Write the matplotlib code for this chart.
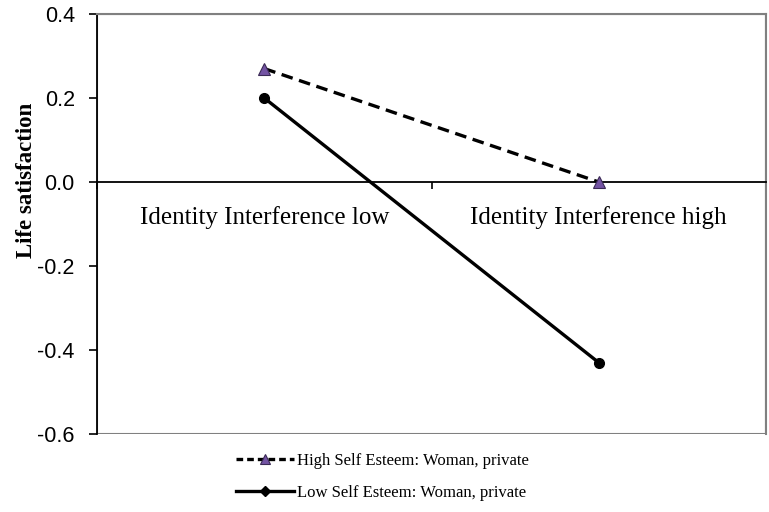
import matplotlib
matplotlib.use("Agg")
import matplotlib.pyplot as plt
from matplotlib.lines import Line2D
from matplotlib.patches import Rectangle

# ---------------------------------------------------------------------------
# Data
# ---------------------------------------------------------------------------
categories = ["Identity Interference low", "Identity Interference high"]
high_esteem = [0.27, 0.0]
low_esteem = [0.20, -0.43]
yticks = [-0.6, -0.4, -0.2, 0.0, 0.2, 0.4]
ytick_labels = ["-0.6", "-0.4", "-0.2", "0.0", "0.2", "0.4"]

SERIF = "Liberation Serif"
SANS = "Liberation Sans"
PURPLE = "#7353a3"

fig = plt.figure(figsize=(7.69, 5.12), dpi=100)
ax = fig.add_axes([97 / 769, 1 - 434 / 512, (766 - 97) / 769, (434 - 14) / 512])

x = list(range(len(categories)))
ax.plot(x, high_esteem, color="black", linewidth=2.4, linestyle=(0, (3.5, 2)),
        marker="^", markersize=8, markerfacecolor=PURPLE,
        markeredgecolor="#3a2a55", markeredgewidth=0.8, zorder=3)
ax.plot(x, low_esteem, color="black", linewidth=2.4, linestyle="-",
        marker="o", markersize=7, markerfacecolor="black",
        markeredgecolor="black", zorder=3)

ax.set_xlim(-0.5, len(categories) - 0.5)
ax.set_ylim(yticks[0], yticks[-1])

# gray frame round the plot area
for side in ["top", "right"]:
    ax.spines[side].set_color("#808080")
    ax.spines[side].set_linewidth(1.5)
ax.add_patch(Rectangle((0, 0), 1, 1, transform=ax.transAxes, fill=False,
                       edgecolor="#808080", linewidth=1.5, zorder=0.5))
ax.spines["left"].set_color("black")
ax.spines["left"].set_linewidth(1.3)
ax.spines["bottom"].set_position(("data", 0))
ax.spines["bottom"].set_color("black")
ax.spines["bottom"].set_linewidth(1.3)

ax.set_yticks(yticks)
ax.set_yticklabels(ytick_labels, fontfamily=SANS, fontsize=15.5)
ax.tick_params(axis="y", direction="out", length=6, width=1.2, pad=10)

# category labels as minor ticks, major ticks between categories
ax.set_xticks([-0.5, 0.5, 1.5])
ax.set_xticklabels([])
ax.tick_params(axis="x", which="major", direction="out", length=5, width=1.2)
ax.set_xticks(x, minor=True)
ax.set_xticklabels(categories, minor=True, fontfamily=SERIF, fontsize=18)
ax.tick_params(axis="x", which="minor", length=0, pad=17)

ax.set_ylabel("Life satisfaction", fontfamily=SERIF, fontsize=16.5,
              fontweight="bold")
ax.yaxis.set_label_coords(-0.09, 0.605)

handles = [
    Line2D([], [], color="black", linewidth=2.4, linestyle=(0, (2, 1.2)),
           marker="^", markersize=7, markerfacecolor=PURPLE,
           markeredgecolor="#3a2a55", markeredgewidth=0.8),
    Line2D([], [], color="black", linewidth=2.4, linestyle="-",
           marker="D", markersize=5, markerfacecolor="black",
           markeredgecolor="black"),
]
labels = ["High Self Esteem: Woman, private", "Low Self Esteem: Woman, private"]
fig.legend(handles, labels, loc="upper left",
           bbox_to_anchor=(221 / 769, 1 - 438 / 512),
           frameon=False, handlelength=3.5, handletextpad=0.15,
           labelspacing=0.95, prop={"family": SERIF, "size": 12})

fig.savefig("out.png", dpi=100)
